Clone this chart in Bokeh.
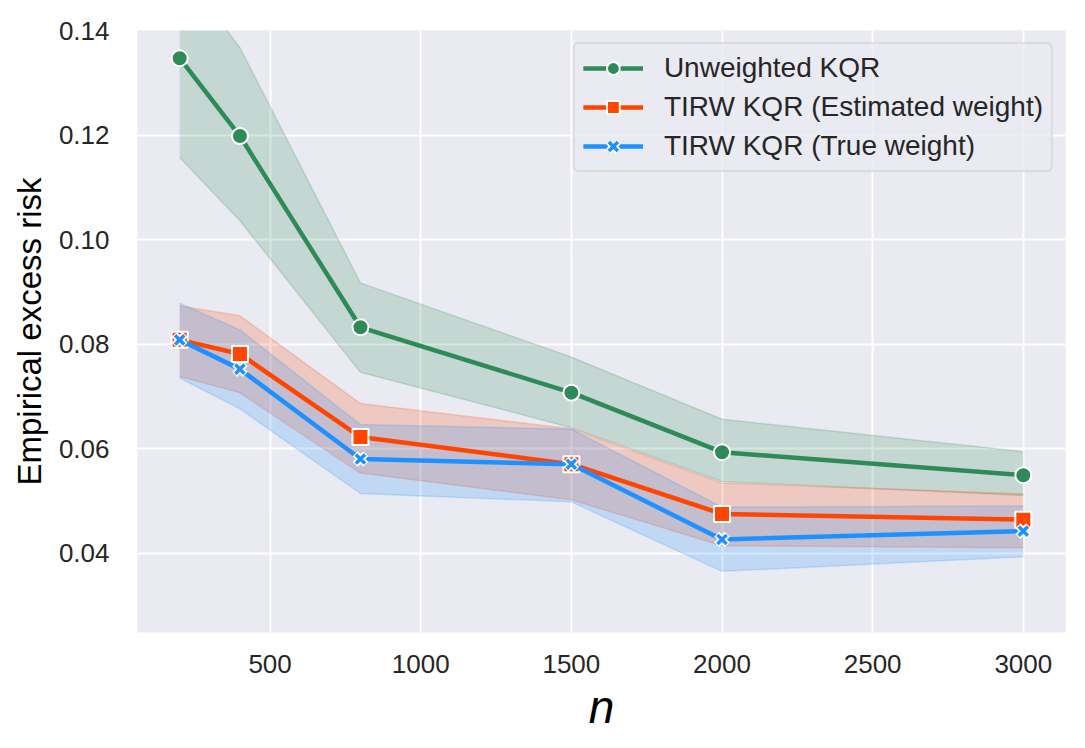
from bokeh.plotting import figure
from bokeh.models import Range1d, FixedTicker, PrintfTickFormatter, Legend, LegendItem
from bokeh.embed import file_html
from bokeh.resources import INLINE

n = [200, 400, 800, 1500, 2000, 3000]

unw_mean = [0.1347, 0.1198, 0.0832, 0.0707, 0.0593, 0.0549]
unw_low = [0.1157, 0.1036, 0.0746, 0.0640, 0.0537, 0.0510]
unw_high = [0.1520, 0.1367, 0.0917, 0.0775, 0.0656, 0.0594]

est_mean = [0.0808, 0.0781, 0.0622, 0.0570, 0.0475, 0.0464]
est_low = [0.0738, 0.0707, 0.0553, 0.0502, 0.0414, 0.0410]
est_high = [0.0873, 0.0854, 0.0686, 0.0638, 0.0534, 0.0513]

true_mean = [0.0808, 0.0752, 0.0580, 0.0570, 0.0426, 0.0442]
true_low = [0.0735, 0.0676, 0.0514, 0.0498, 0.0365, 0.0393]
true_high = [0.0878, 0.0827, 0.0646, 0.0637, 0.0488, 0.0490]

labels = ["Unweighted KQR", "TIRW KQR (Estimated weight)", "TIRW KQR (True weight)"]
colors = ["#2E8B57", "#FF4500", "#1E90FF"]

FONT = "Liberation Sans"
TXT = "#262626"

p = figure(width=1075, height=740, output_backend="svg", toolbar_location=None,
           x_range=Range1d(60, 3140), y_range=Range1d(0.0248, 0.14),
           min_border_left=137, min_border_right=10, min_border_top=30, min_border_bottom=108)

p.background_fill_color = "#EAEAF2"
p.border_fill_color = "white"
p.outline_line_color = None

p.xgrid.grid_line_color = "white"
p.ygrid.grid_line_color = "white"
p.xgrid.grid_line_width = 2
p.ygrid.grid_line_width = 2

p.xaxis.ticker = FixedTicker(ticks=[500, 1000, 1500, 2000, 2500, 3000])
p.yaxis.ticker = FixedTicker(ticks=[0.04, 0.06, 0.08, 0.10, 0.12, 0.14])
p.yaxis.formatter = PrintfTickFormatter(format="%.2f")

for ax in (p.xaxis, p.yaxis):
    ax.axis_line_color = None
    ax.major_tick_line_color = None
    ax.minor_tick_line_color = None
    ax.major_label_text_font = FONT
    ax.major_label_text_font_size = "26px"
    ax.major_label_text_color = TXT
    ax.axis_label_text_font = FONT
    ax.axis_label_text_color = "black"
    ax.axis_label_text_font_style = "normal"

p.xaxis.major_label_standoff = 16
p.yaxis.major_label_standoff = 22

p.xaxis.axis_label = "n"
p.xaxis.axis_label_text_font_style = "italic"
p.xaxis.axis_label_text_font_size = "46px"
p.xaxis.axis_label_standoff = 5
p.yaxis.axis_label = "Empirical excess risk"
p.yaxis.axis_label_text_font_size = "33px"
p.yaxis.axis_label_standoff = 8

series = [
    (unw_mean, unw_low, unw_high, "circle"),
    (est_mean, est_low, est_high, "square"),
    (true_mean, true_low, true_high, "x"),
]

# bands first
for (m, lo, hi, mk), col in zip(series, colors):
    p.varea(x=n, y1=lo, y2=hi, fill_color=col, fill_alpha=0.2)
    p.line(x=n, y=lo, line_color=col, line_alpha=0.2, line_width=1.5)
    p.line(x=n, y=hi, line_color=col, line_alpha=0.2, line_width=1.5)

items = []
for (m, lo, hi, mk), col, lab in zip(series, colors, labels):
    ln = p.line(x=n, y=m, line_color=col, line_width=4.5)
    rs = [ln]
    if mk == "x":
        rs.append(p.scatter(x=n, y=m, marker="x", size=15, line_color="white", line_width=7))
        rs.append(p.scatter(x=n, y=m, marker="x", size=13, line_color=col, line_width=3.5))
    elif mk == "square":
        rs.append(p.scatter(x=n, y=m, marker="square", size=16, fill_color=col,
                            line_color="white", line_width=2))
    else:
        rs.append(p.scatter(x=n, y=m, marker="circle", size=16, fill_color=col,
                            line_color="white", line_width=2))
    items.append(LegendItem(label=lab, renderers=rs))

legend = Legend(items=items, location="top_right")
legend.margin = 12
legend.padding = 8
legend.spacing = 7
legend.glyph_width = 60
legend.glyph_height = 32
legend.label_height = 32
legend.label_standoff = 21
legend.label_text_font = FONT
legend.label_text_font_size = "28px"
legend.label_text_color = TXT
legend.background_fill_color = "#EAEAF2"
legend.background_fill_alpha = 0.8
legend.border_line_color = "#CCCCCC"
legend.border_line_width = 2
legend.border_radius = 6
p.add_layout(legend, "center")

open("out.html", "w").write(file_html(p, INLINE))
